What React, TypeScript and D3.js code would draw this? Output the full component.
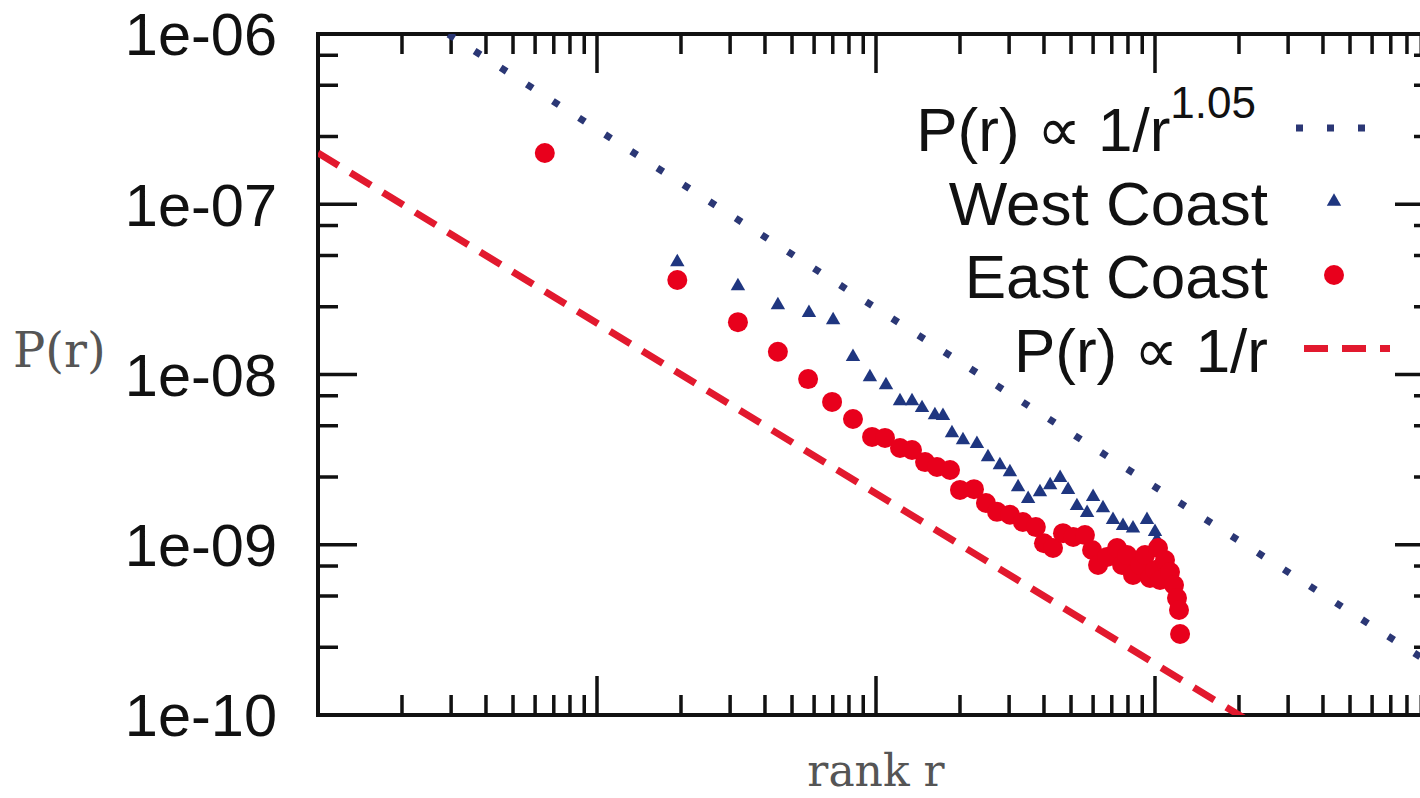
import { useEffect, useRef } from 'react';
import * as d3 from 'd3';

// rank r / probability P(r)
const westRank = [19.4, 32.0, 44.5, 57.5, 70.2, 82.7, 95.1, 108.6, 121.9, 134.6, 146.2, 162.6, 173.8, 187.2, 205, 230, 252, 278, 302, 323, 351, 387, 421, 457, 488, 525, 571, 600, 651, 707, 768, 834, 936, 1000, 1016];
const westP = [4.58e-8, 3.31e-8, 2.56e-8, 2.30e-8, 2.09e-8, 1.27e-8, 9.66e-9, 8.67e-9, 6.98e-9, 6.98e-9, 6.36e-9, 5.78e-9, 5.71e-9, 4.53e-9, 4.12e-9, 3.91e-9, 3.27e-9, 2.94e-9, 2.67e-9, 2.18e-9, 1.86e-9, 2.04e-9, 2.24e-9, 2.47e-9, 2.10e-9, 1.69e-9, 1.54e-9, 1.91e-9, 1.64e-9, 1.40e-9, 1.29e-9, 1.25e-9, 1.40e-9, 1.19e-9, 1.07e-9];

const eastRank = [6.5, 19.4, 32.0, 44.5, 57.1, 69.6, 82.7, 96.8, 107.7, 121.9, 134.6, 149.9, 165.4, 184.2, 200, 224.5, 247.8, 271.5, 302, 336, 374, 400, 431, 468, 509, 561, 595, 625, 673, 731, 762, 794, 834, 883, 921, 959, 1000, 1025, 1042, 1086, 1132, 1170, 1199, 1219, 1230];
const eastP = [2.0e-7, 3.59e-8, 2.03e-8, 1.36e-8, 9.4e-9, 6.9e-9, 5.48e-9, 4.30e-9, 4.24e-9, 3.70e-9, 3.60e-9, 3.06e-9, 2.86e-9, 2.75e-9, 2.10e-9, 2.12e-9, 1.76e-9, 1.56e-9, 1.50e-9, 1.36e-9, 1.27e-9, 1.02e-9, 9.57e-10, 1.17e-9, 1.11e-9, 1.14e-9, 9.31e-10, 7.60e-10, 8.47e-10, 9.57e-10, 7.60e-10, 8.71e-10, 6.64e-10, 7.60e-10, 8.71e-10, 6.38e-10, 7.11e-10, 9.57e-10, 6.21e-10, 8.13e-10, 6.92e-10, 5.80e-10, 4.86e-10, 4.14e-10, 2.99e-10];

// power-law guide lines P = A / r^k
const fitWestA = 3.09e-6;
const fitWestK = 1.05;
const fitEastA = 2.0e-7;
const fitEastK = 1;

const xDomain = [1, 1e4];
const yDomain = [1e-10, 1e-6];
const xMajorTicks = [1, 10, 100, 1000, 10000];
const xMinorSteps = [2, 3, 4, 5, 6, 7, 8, 9];
const yMajorTicks = [1e-10, 1e-9, 1e-8, 1e-7, 1e-6];
const yMinorSteps = [2.5, 5, 7.5];
const yTickLabels = ['1e-10', '1e-09', '1e-08', '1e-07', '1e-06'];

const legendLabels = ['West Coast', 'East Coast', 'P(r) \u221d 1/r'];

const RED = '#e8001c';
const RED_LINE = '#e2192e';
const BLUE = '#1f3680';
const BLUE_LINE = '#2b3775';

export default function App() {
  const svgRef = useRef<SVGSVGElement | null>(null);

  useEffect(() => {
    if (!svgRef.current) return;
    const W = 1420;
    const H = 798;
    const left = 318, right = 1434, top = 34, bottom = 715;

    const svg = d3.select(svgRef.current);
    svg.selectAll('*').remove();
    svg.attr('width', W).attr('height', H);

    const x = d3.scaleLog().domain(xDomain).range([left, right]);
    const y = d3.scaleLog().domain(yDomain).range([bottom, top]);

    svg.append('rect').attr('width', W).attr('height', H).attr('fill', '#fff');

    svg.append('defs').append('clipPath').attr('id', 'plot-clip')
      .append('rect')
      .attr('x', left).attr('y', top)
      .attr('width', right - left).attr('height', bottom - top);

    const xMinor = xMajorTicks.slice(0, -1).flatMap((d) => xMinorSteps.map((m) => d * m));
    const yMinor = yMajorTicks.slice(0, -1).flatMap((d) => yMinorSteps.map((m) => d * m));

    const tickG = svg.append('g').attr('stroke', '#111').attr('stroke-width', 3.5);
    const MAJ = 39, MIN = 20;

    // x ticks, bottom and top, pointing inward
    [[xMajorTicks, MAJ], [xMinor, MIN]].forEach(([vals, len]) => {
      (vals as number[]).forEach((v) => {
        const px = x(v);
        tickG.append('line').attr('x1', px).attr('x2', px).attr('y1', bottom).attr('y2', bottom - (len as number));
        tickG.append('line').attr('x1', px).attr('x2', px).attr('y1', top).attr('y2', top + (len as number));
      });
    });
    // y ticks, left and right
    [[yMajorTicks, MAJ], [yMinor, MIN]].forEach(([vals, len]) => {
      (vals as number[]).forEach((v) => {
        const py = y(v);
        tickG.append('line').attr('y1', py).attr('y2', py).attr('x1', left).attr('x2', left + (len as number));
        tickG.append('line').attr('y1', py).attr('y2', py).attr('x1', right).attr('x2', right - (len as number));
      });
    });

    // frame
    svg.append('rect')
      .attr('x', left).attr('y', top)
      .attr('width', right - left).attr('height', bottom - top)
      .attr('fill', 'none').attr('stroke', '#111').attr('stroke-width', 4);

    // y tick labels
    svg.append('g')
      .selectAll('text')
      .data(yMajorTicks)
      .join('text')
      .attr('x', 277)
      .attr('y', (d) => y(d))
      .attr('dy', '0.36em')
      .attr('text-anchor', 'end')
      .attr('font-family', '"Liberation Sans", Arial, sans-serif')
      .attr('font-size', 59.5)
      .attr('fill', '#111')
      .text((_, i) => yTickLabels[i]);

    // axis titles
    svg.append('text')
      .attr('x', 13).attr('y', 367)
      .attr('font-family', '"DejaVu Serif", serif')
      .attr('font-size', 48)
      .attr('fill', '#555')
      .text('P(r)');
    svg.append('text')
      .attr('x', 876).attr('y', 786)
      .attr('text-anchor', 'middle')
      .attr('font-family', '"DejaVu Serif", serif')
      .attr('font-size', 44)
      .attr('fill', '#555')
      .text('rank r');

    const plot = svg.append('g').attr('clip-path', 'url(#plot-clip)');

    const fitLine = (A: number, k: number) =>
      d3.line<number>().x((r) => x(r)).y((r) => y(A / Math.pow(r, k)))(xDomain);

    // 1/r^1.05 dotted
    plot.append('path')
      .attr('d', fitLine(fitWestA, fitWestK))
      .attr('fill', 'none')
      .attr('stroke', BLUE_LINE)
      .attr('stroke-width', 7)
      .attr('stroke-dasharray', '7 24');

    // West Coast triangles
    const tri = d3.symbol().type(d3.symbolTriangle).size(90);
    plot.append('g')
      .selectAll('path')
      .data(westRank.map((r, i) => [r, westP[i]]))
      .join('path')
      .attr('d', tri)
      .attr('transform', (d) => `translate(${x(d[0])},${y(d[1])})`)
      .attr('fill', BLUE);

    // East Coast circles
    plot.append('g')
      .selectAll('circle')
      .data(eastRank.map((r, i) => [r, eastP[i]]))
      .join('circle')
      .attr('cx', (d) => x(d[0]))
      .attr('cy', (d) => y(d[1]))
      .attr('r', 10)
      .attr('fill', RED);

    // 1/r dashed
    plot.append('path')
      .attr('d', fitLine(fitEastA, fitEastK))
      .attr('fill', 'none')
      .attr('stroke', RED_LINE)
      .attr('stroke-width', 7)
      .attr('stroke-dasharray', '24 14');

    // legend
    const lg = svg.append('g');
    const rowY = (i: number) => 128 + i * 73.5;
    const textX = 1268;
    const font = '"Liberation Sans", Arial, sans-serif';

    const first = lg.append('text')
      .attr('x', 1256).attr('y', rowY(0) + 23)
      .attr('text-anchor', 'end')
      .attr('font-family', font).attr('font-size', 62).attr('fill', '#111');
    first.append('tspan').text('P(r) \u221d 1/r');
    first.append('tspan').attr('font-size', 44).attr('dy', -33).text('1.05');

    legendLabels.forEach((t, i) => {
      lg.append('text')
        .attr('x', textX).attr('y', rowY(i + 1) + 23)
        .attr('text-anchor', 'end')
        .attr('font-family', font).attr('font-size', 62).attr('fill', '#111')
        .text(t);
    });

    lg.append('line')
      .attr('x1', 1296).attr('x2', 1384)
      .attr('y1', rowY(0)).attr('y2', rowY(0))
      .attr('stroke', BLUE_LINE).attr('stroke-width', 7)
      .attr('stroke-dasharray', '7 24');
    lg.append('path')
      .attr('d', tri)
      .attr('transform', `translate(1334,${rowY(1)})`)
      .attr('fill', BLUE);
    lg.append('circle')
      .attr('cx', 1334).attr('cy', rowY(2)).attr('r', 10).attr('fill', RED);
    lg.append('line')
      .attr('x1', 1304).attr('x2', 1390)
      .attr('y1', rowY(3)).attr('y2', rowY(3))
      .attr('stroke', RED_LINE).attr('stroke-width', 7)
      .attr('stroke-dasharray', '24 14');
  }, []);

  return (
    <svg ref={svgRef} style={{ position: 'fixed', left: 0, top: 0, display: 'block' }} />
  );
}
